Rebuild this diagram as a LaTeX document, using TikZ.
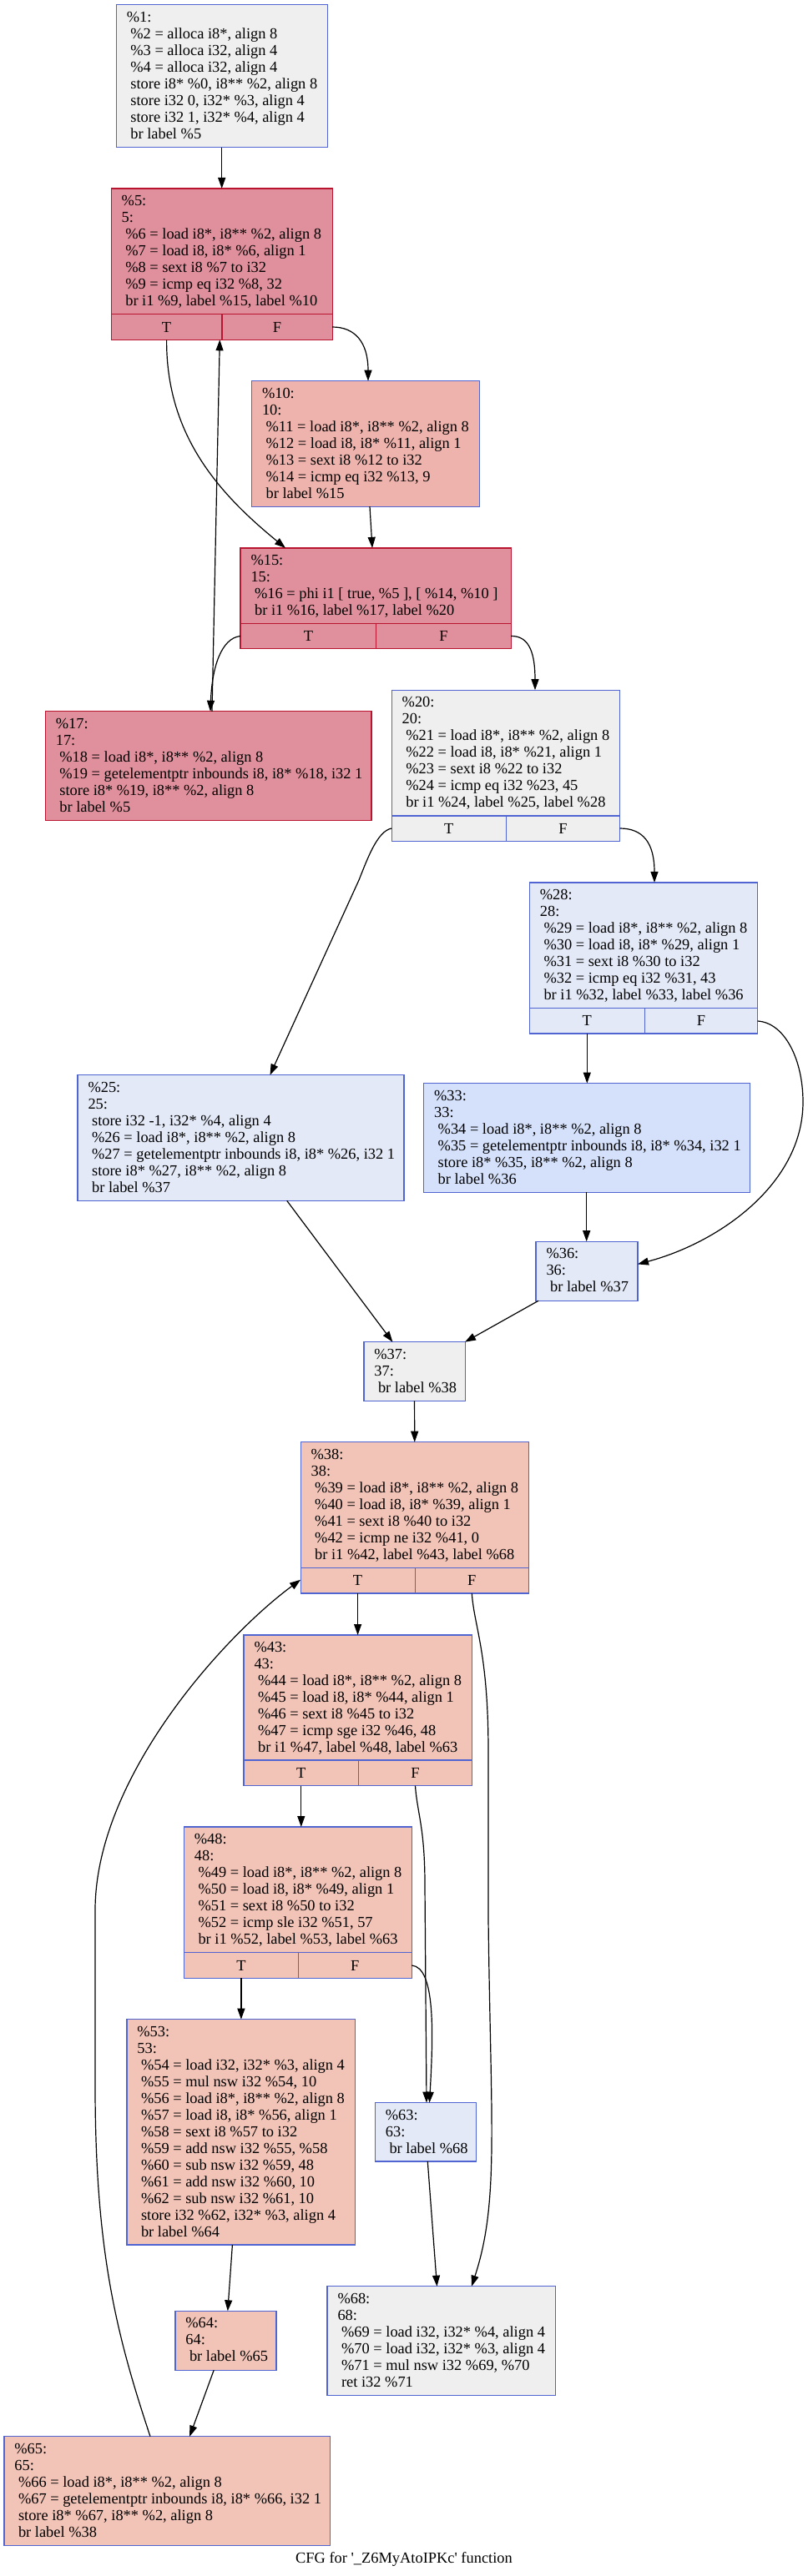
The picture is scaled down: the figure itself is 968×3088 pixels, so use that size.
\documentclass[tikz,border=0pt]{standalone}
\usepackage{fontspec}
\setmainfont{Liberation Serif}[Ligatures=TeXOff]
\usetikzlibrary{arrows.meta,calc}
\definecolor{cgray}{HTML}{EFEFEF}
\definecolor{cred}{HTML}{DF909C}
\definecolor{csalmon}{HTML}{EEB3AD}
\definecolor{cpeach}{HTML}{F2C3B7}
\definecolor{cblue}{HTML}{E3E9F7}
\definecolor{cbluetwo}{HTML}{D5E1FB}
\definecolor{bblue}{HTML}{5064D2}
\definecolor{bred}{HTML}{BA1530}
\tikzset{
  blockbox/.style={rectangle, anchor=north west, inner sep=0pt, outer sep=0pt, line width=1.2pt},
  gblk/.style={fill=cgray, draw=bblue},
  rblk/.style={fill=cred, draw=bred},
  sblk/.style={fill=csalmon, draw=bblue},
  pblk/.style={fill=cpeach, draw=bblue},
  bblk/.style={fill=cblue, draw=bblue},
  b2blk/.style={fill=cbluetwo, draw=bblue},
  blocktext/.style={anchor=north west, inner sep=0pt, outer sep=0pt, align=left, font=\fontsize{18.4}{20}\selectfont},
  tftext/.style={anchor=center, inner sep=0pt, font=\fontsize{18.4}{20}\selectfont},
  cfgedge/.style={line width=1.2pt, -{Triangle[length=13pt,width=9pt]}}
}
% name, style, L, T, R, B, text
\newcommand{\cfgblock}[7]{%
  \node[blockbox, #2, minimum width={(#5)-(#3)}, minimum height={(#6)-(#4)}] (#1) at (#3,#4) {};
  \node[blocktext] (#1t) at ([shift={(12.5,5.5)}]#1.north west) {\rule{0pt}{15pt}#7};
}
% name, L, R, mid, div, B, bordercolor
\newcommand{\cfgtf}[7]{%
  \draw[line width=1.2pt, draw=#7] (#2,#5) -- (#3,#5);
  \draw[line width=1.2pt, draw=#7] (#4,#5) -- (#4,#6);
  \node[tftext] (#1Tl) at ({(#2+#4)/2},{(#5+#6)/2}) {T};
  \node[tftext] (#1Fl) at ({(#4+#3)/2},{(#5+#6)/2}) {F};
}
\begin{document}
\begin{tikzpicture}[x=1pt,y=-1pt]
\useasboundingbox (0,0) rectangle (968,3088);
\fill[white] (0,0) rectangle (968,3088);

\cfgblock{n1}{gblk}{139.3}{5.7}{392.1}{176.7}{\%1:\\\ \%2 = alloca i8*, align 8\\\ \%3 = alloca i32, align 4\\\ \%4 = alloca i32, align 4\\\ store i8* \%0, i8** \%2, align 8\\\ store i32 0, i32* \%3, align 4\\\ store i32 1, i32* \%4, align 4\\\ br label \%5}

\cfgblock{n5}{rblk}{133.2}{226}{398.2}{407.3}{\%5:\\5:\\\ \%6 = load i8*, i8** \%2, align 8\\\ \%7 = load i8, i8* \%6, align 1\\\ \%8 = sext i8 \%7 to i32\\\ \%9 = icmp eq i32 \%8, 32\\\ br i1 \%9, label \%15, label \%10}
\cfgtf{n5}{133.2}{398.2}{266}{376.7}{407.3}{bred}

\cfgblock{n10}{sblk}{301.5}{456.7}{574.4}{607.1}{\%10:\\10:\\\ \%11 = load i8*, i8** \%2, align 8\\\ \%12 = load i8, i8* \%11, align 1\\\ \%13 = sext i8 \%12 to i32\\\ \%14 = icmp eq i32 \%13, 9\\\ br label \%15}

\cfgblock{n15}{rblk}{288}{656.9}{612.2}{777.8}{\%15:\\15:\\\ \%16 = phi i1 [ true, \%5 ], [ \%14, \%10 ]\\\ br i1 \%16, label \%17, label \%20}
\cfgtf{n15}{288}{612.2}{450.8}{747.2}{777.8}{bred}

\cfgblock{n17}{rblk}{54.3}{852.8}{445}{983.3}{\%17:\\17:\\\ \%18 = load i8*, i8** \%2, align 8\\\ \%19 = getelementptr inbounds i8, i8* \%18, i32 1\\\ store i8* \%19, i8** \%2, align 8\\\ br label \%5}

\cfgblock{n20}{gblk}{469.2}{827.2}{742.6}{1008.2}{\%20:\\20:\\\ \%21 = load i8*, i8** \%2, align 8\\\ \%22 = load i8, i8* \%21, align 1\\\ \%23 = sext i8 \%22 to i32\\\ \%24 = icmp eq i32 \%23, 45\\\ br i1 \%24, label \%25, label \%28}
\cfgtf{n20}{469.2}{742.6}{606.4}{978}{1008.2}{bblue}

\cfgblock{n28}{bblk}{634.4}{1057.9}{907.7}{1238.9}{\%28:\\28:\\\ \%29 = load i8*, i8** \%2, align 8\\\ \%30 = load i8, i8* \%29, align 1\\\ \%31 = sext i8 \%30 to i32\\\ \%32 = icmp eq i32 \%31, 43\\\ br i1 \%32, label \%33, label \%36}
\cfgtf{n28}{634.4}{907.7}{772.2}{1208.6}{1238.9}{bblue}

\cfgblock{n25}{bblk}{93}{1288.6}{483.9}{1439.3}{\%25:\\25:\\\ store i32 -1, i32* \%4, align 4\\\ \%26 = load i8*, i8** \%2, align 8\\\ \%27 = getelementptr inbounds i8, i8* \%26, i32 1\\\ store i8* \%27, i8** \%2, align 8\\\ br label \%37}

\cfgblock{n33}{b2blk}{507.6}{1298.6}{898.4}{1429.3}{\%33:\\33:\\\ \%34 = load i8*, i8** \%2, align 8\\\ \%35 = getelementptr inbounds i8, i8* \%34, i32 1\\\ store i8* \%35, i8** \%2, align 8\\\ br label \%36}

\cfgblock{n36}{bblk}{642}{1488.2}{764}{1559.3}{\%36:\\36:\\\ br label \%37}

\cfgblock{n37}{gblk}{435.9}{1608.7}{557.2}{1679.3}{\%37:\\37:\\\ br label \%38}

\cfgblock{n38}{pblk}{360.1}{1728.7}{633.4}{1910}{\%38:\\38:\\\ \%39 = load i8*, i8** \%2, align 8\\\ \%40 = load i8, i8* \%39, align 1\\\ \%41 = sext i8 \%40 to i32\\\ \%42 = icmp ne i32 \%41, 0\\\ br i1 \%42, label \%43, label \%68}
\cfgtf{n38}{360.1}{633.4}{497.1}{1879.3}{1910}{bblue}

\cfgblock{n43}{pblk}{292}{1960}{565.4}{2140.7}{\%43:\\43:\\\ \%44 = load i8*, i8** \%2, align 8\\\ \%45 = load i8, i8* \%44, align 1\\\ \%46 = sext i8 \%45 to i32\\\ \%47 = icmp sge i32 \%46, 48\\\ br i1 \%47, label \%48, label \%63}
\cfgtf{n43}{292}{565.4}{429.6}{2110}{2140.7}{bblue}

\cfgblock{n48}{pblk}{220.4}{2190}{493.2}{2371.4}{\%48:\\48:\\\ \%49 = load i8*, i8** \%2, align 8\\\ \%50 = load i8, i8* \%49, align 1\\\ \%51 = sext i8 \%50 to i32\\\ \%52 = icmp sle i32 \%51, 57\\\ br i1 \%52, label \%53, label \%63}
\cfgtf{n48}{220.4}{493.2}{357.4}{2340.7}{2371.4}{bblue}

\cfgblock{n53}{pblk}{151.9}{2420.7}{425.3}{2691}{\%53:\\53:\\\ \%54 = load i32, i32* \%3, align 4\\\ \%55 = mul nsw i32 \%54, 10\\\ \%56 = load i8*, i8** \%2, align 8\\\ \%57 = load i8, i8* \%56, align 1\\\ \%58 = sext i8 \%57 to i32\\\ \%59 = add nsw i32 \%55, \%58\\\ \%60 = sub nsw i32 \%59, 48\\\ \%61 = add nsw i32 \%60, 10\\\ \%62 = sub nsw i32 \%61, 10\\\ store i32 \%62, i32* \%3, align 4\\\ br label \%64}

\cfgblock{n63}{bblk}{449.4}{2520.6}{570.4}{2591}{\%63:\\63:\\\ br label \%68}

\cfgblock{n64}{pblk}{209.9}{2770.3}{330.9}{2841.2}{\%64:\\64:\\\ br label \%65}

\cfgblock{n68}{gblk}{392}{2740.7}{665.4}{2871.2}{\%68:\\68:\\\ \%69 = load i32, i32* \%4, align 4\\\ \%70 = load i32, i32* \%3, align 4\\\ \%71 = mul nsw i32 \%69, \%70\\\ ret i32 \%71}

\cfgblock{n65}{pblk}{4.9}{2920.7}{395.7}{3051.2}{\%65:\\65:\\\ \%66 = load i8*, i8** \%2, align 8\\\ \%67 = getelementptr inbounds i8, i8* \%66, i32 1\\\ store i8* \%67, i8** \%2, align 8\\\ br label \%38}

\node[anchor=base, inner sep=0pt, font=\fontsize{18.4}{20}\selectfont] (caption) at (484,3072) {CFG for '\_Z6MyAtoIPKc' function};

% ports
\coordinate (p5T) at (199.6,407.3);
\coordinate (p5F) at (398.2,392);
\coordinate (q15a) at (342,656.9);
\coordinate (q10) at (441,456.7);
\coordinate (p10o) at (443,607.1);
\coordinate (q15b) at (446,656.9);
\coordinate (p15T) at (288,762.5);
\coordinate (q17) at (252,852.8);
\coordinate (p17o) at (254,852.8);
\coordinate (q5) at (263.3,407.3);
\coordinate (p15F) at (612.2,762.5);
\coordinate (q20) at (641,827.2);
\coordinate (p20T) at (469.2,993);
\coordinate (q25) at (323.5,1288.6);
\coordinate (p20F) at (742.6,993);
\coordinate (q28) at (784,1057.9);
\coordinate (p28T) at (703.3,1238.9);
\coordinate (q33) at (703.3,1298.6);
\coordinate (p28F) at (907.7,1224);
\coordinate (q36a) at (764,1515.4);
\coordinate (p33o) at (702.7,1429.3);
\coordinate (q36b) at (702.7,1488.2);
\coordinate (p25o) at (343.7,1439.3);
\coordinate (q37a) at (470.4,1608.7);
\coordinate (p36o) at (645,1559.3);
\coordinate (q37b) at (557,1608.7);
\coordinate (p38T) at (428.6,1910);
\coordinate (q43) at (428.6,1960);
\coordinate (p38F) at (565.3,1910);
\coordinate (q68a) at (565,2740.7);
\coordinate (p43T) at (360.8,2140.7);
\coordinate (q48) at (360.8,2190);
\coordinate (p43F) at (497.5,2140.7);
\coordinate (q63a) at (511,2520.6);
\coordinate (p48T) at (288.9,2371.4);
\coordinate (q53) at (288.9,2420.7);
\coordinate (p48F) at (493.2,2356);
\coordinate (q63b) at (514.5,2520.6);
\coordinate (p53o) at (278.4,2691);
\coordinate (q64) at (272.8,2770.3);
\coordinate (p63o) at (512.3,2591);
\coordinate (q68b) at (523.5,2740.7);
\coordinate (p64o) at (256.2,2841.2);
\coordinate (q65) at (227.2,2920.7);
\coordinate (p65o) at (180,2920.7);
\coordinate (q38) at (360.1,1893.7);

% edges
\draw[cfgedge] (n1.south) -- (n5.north);
\draw[cfgedge] (p5T) .. controls (199,520) and (260,590) .. (q15a);
\draw[cfgedge] (p5F) .. controls (425,392) and (441,410) .. (q10);
\draw[cfgedge] (p10o) -- (q15b);
\draw[cfgedge] (p15T) .. controls (265,765) and (254,800) .. (q17);
\draw[cfgedge] (p17o) -- (q5);
\draw[cfgedge] (p15F) .. controls (635,762) and (641,785) .. (q20);
\draw[cfgedge] (p20T) .. controls (452,996) and (440,1030) .. (430,1055) -- (q25);
\draw[cfgedge] (p20F) .. controls (770,993) and (784,1010) .. (q28);
\draw[cfgedge] (p28T) -- (q33);
\draw[cfgedge] (p28F) .. controls (940,1226) and (962,1270) .. (962,1321) .. controls (962,1420) and (860,1490) .. (q36a);
\draw[cfgedge] (p33o) -- (q36b);
\draw[cfgedge] (p25o) -- (q37a);
\draw[cfgedge] (p36o) -- (q37b);
\draw[cfgedge] (n37.south) -- (n38.north);
\draw[cfgedge] (p38T) -- (q43);
\draw[cfgedge] (p38F) .. controls (568,1950) and (585,1980) .. (585,2100) -- (585,2300) .. controls (588,2550) and (598,2640) .. (q68a);
\draw[cfgedge] (p43T) -- (q48);
\draw[cfgedge] (p43F) .. controls (500,2175) and (509,2190) .. (509,2260) -- (q63a);
\draw[cfgedge] (p48T) -- (q53);
\draw[cfgedge] (p48F) .. controls (522,2358) and (519,2440) .. (q63b);
\draw[cfgedge] (p53o) -- (q64);
\draw[cfgedge] (p63o) -- (q68b);
\draw[cfgedge] (p64o) -- (q65);
\draw[cfgedge] (p65o) .. controls (140,2800) and (114,2700) .. (114,2500) -- (114,2290) .. controls (114,2130) and (270,1960) .. (q38);
\end{tikzpicture}
\end{document}
